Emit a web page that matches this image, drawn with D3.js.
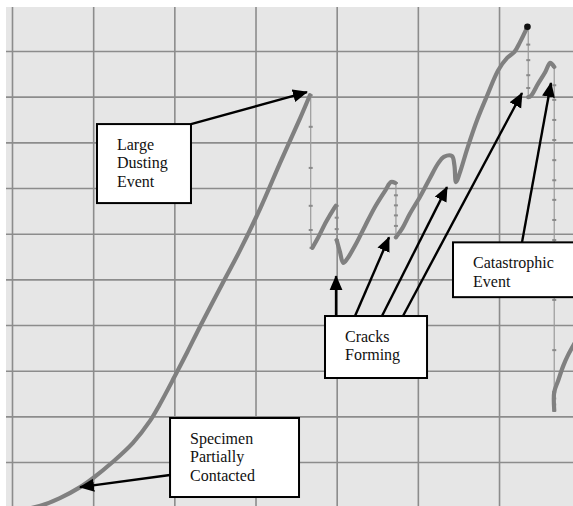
<!DOCTYPE html>
<html>
<head>
<meta charset="utf-8">
<script src="https://cdn.jsdelivr.net/npm/d3@7"></script>
<style>
  html, body { margin: 0; padding: 0; background: #ffffff; }
  svg { display: block; }
  text { font-family: "Liberation Serif", "Times New Roman", serif; font-size: 16px; fill: #111; }
</style>
</head>
<body>
<svg id="chart" width="573" height="506"></svg>
<script>
// ---------- data (grid units: displacement vs load) ----------
const xGrid = [0, 1, 2, 3, 4, 5, 6, 7];
const yGrid = [0, 1, 2, 3, 4, 5, 6, 7, 8, 9, 10, 11];

// loading portions of the trace (dense data points)
const rise1 = [[0.20,-0.02],[0.35,0.04],[0.59,0.21],[0.84,0.45],[1.00,0.65],[1.24,1.00],
  [1.49,1.42],[1.70,1.90],[1.82,2.26],[2.00,2.86],[2.16,3.41],[2.32,3.98],[2.59,4.90],[2.81,5.64],
  [3.06,6.56],[3.30,7.54],[3.55,8.53],[3.67,9.03]];
const rise2 = [[3.70,5.69],[3.77,5.91],[3.87,6.26],[3.97,6.56],[3.99,6.61]];
const rise3 = [[4.00,5.86],[4.04,5.60],[4.08,5.36],[4.13,5.45],[4.23,5.75],[4.35,6.17],[4.47,6.58],
  [4.60,6.95],[4.67,7.13],[4.72,7.11]];
const rise4 = [[4.73,5.92],[4.81,6.12],[4.90,6.43],[5.03,6.82],[5.15,7.22],[5.25,7.54],[5.32,7.68],
  [5.42,7.70],[5.45,7.50],[5.47,7.13],[5.52,7.35],[5.61,7.87],[5.73,8.49],[5.85,9.01],[5.99,9.58],
  [6.10,9.85],[6.19,9.98],[6.26,10.20],[6.35,10.53]];
const rise5 = [[6.36,8.99],[6.39,9.01],[6.48,9.28],[6.57,9.54],[6.63,9.74],[6.68,9.65]];
const rise6 = [[6.68,2.14],[6.68,2.53],[6.73,2.79],[6.79,3.10],[6.85,3.34],[6.94,3.63]];

// load drops (sparse data points)
const drop1 = [[3.68,9.03],[3.68,8.34],[3.68,7.44],[3.68,6.61],[3.68,6.08],[3.69,5.69]];
const drop2 = [[4.00,6.61],[4.00,6.35],[4.00,6.10],[4.00,5.86]];
const drop3 = [[4.73,7.11],[4.73,6.84],[4.73,6.62],[4.73,6.40],[4.73,6.17],[4.73,5.92]];
const drop4 = [[6.36,10.53],[6.36,10.14],[6.36,9.80],[6.36,9.47],[6.36,9.19],[6.36,8.99]];
const drop5 = [[6.68,9.65],[6.68,9.25],[6.68,8.93],[6.68,8.49],[6.68,8.05],[6.68,7.61],[6.68,7.17],
  [6.68,6.74],[6.68,6.30],[6.68,5.86],[6.68,5.38],[6.68,4.55],[6.68,3.45],[6.68,2.53],[6.68,2.39],
  [6.68,2.26],[6.68,2.12]];

const peakPoint = [6.35, 10.53];

// annotations: text, box (data units), arrows [from, to] in data units
const annoLabels = [
  { lines: ["Large", "Dusting", "Event"], box: [1.047, 8.40, 2.205, 6.67],
    arrows: [[[2.205, 8.40], [3.634, 9.10]]] },
  { lines: ["Specimen", "Partially", "Contacted"], box: [1.947, 1.964, 3.536, 0.234],
    arrows: [[[1.947, 0.716], [0.838, 0.45]]] },
  { lines: ["Cracks", "Forming"], box: [3.856, 4.197, 5.113, 2.840],
    arrows: [[[3.992, 4.197], [3.992, 5.07]], [[4.226, 4.197], [4.645, 5.92]],
             [[4.558, 4.197], [5.359, 7.02]], [[4.817, 4.197], [6.283, 9.08]]] },
  { lines: ["Catastrophic", "Event"], box: [5.433, 5.81, 7.05, 4.61],
    arrows: [[[6.283, 5.81], [6.640, 9.30]]] }
];

// ---------- drawing ----------
const svg = d3.select("#chart");
const plot = { left: 6, top: 7, right: 573, bottom: 506 };

const x = d3.scaleLinear().domain([0, 7]).range([12, 580.2]);
const y = d3.scaleLinear().domain([0, 11]).range([507.7, 5.33]);

const defs = svg.append("defs");
defs.append("clipPath").attr("id", "clip")
  .append("rect").attr("x", plot.left).attr("y", plot.top)
  .attr("width", plot.right - plot.left).attr("height", plot.bottom - plot.top);
defs.append("marker").attr("id", "arrow")
  .attr("markerUnits", "userSpaceOnUse")
  .attr("viewBox", "0 -7 15 14").attr("refX", 14).attr("refY", 0)
  .attr("markerWidth", 15).attr("markerHeight", 14).attr("orient", "auto")
  .append("path").attr("d", "M0,-6.5L15,0L0,6.5Z").attr("fill", "#000");

const g = svg.append("g").attr("clip-path", "url(#clip)");

g.append("rect").attr("x", plot.left).attr("y", plot.top)
  .attr("width", plot.right - plot.left).attr("height", plot.bottom - plot.top)
  .attr("fill", "#e6e6e6");

// grid via axes
const gx = g.append("g").attr("transform", `translate(0,${plot.bottom})`)
  .call(d3.axisBottom(x).tickValues(xGrid).tickSize(-(plot.bottom - plot.top)).tickFormat(""));
const gy = g.append("g").attr("transform", `translate(${plot.left},0)`)
  .call(d3.axisLeft(y).tickValues(yGrid).tickSize(-(plot.right - plot.left)).tickFormat(""));
[gx, gy].forEach(a => {
  a.select(".domain").remove();
  a.selectAll(".tick line").attr("stroke", "#8c8c8c").attr("stroke-width", 1.6);
});

const line = d3.line().x(d => x(d[0])).y(d => y(d[1]));
const smooth = d3.line().curve(d3.curveCatmullRom.alpha(0.5)).x(d => x(d[0])).y(d => y(d[1]));

// drops: thin line with sparse markers
const drops = [drop1, drop2, drop3, drop4, drop5];
drops.forEach(seg => {
  g.append("path").attr("d", line(seg)).attr("fill", "none")
    .attr("stroke", "#9a9a9a").attr("stroke-width", 1.2);
  g.selectAll(null).data(seg).enter().append("rect")
    .attr("x", d => x(d[0]) - 2).attr("y", d => y(d[1]) - 1)
    .attr("width", 4).attr("height", 2).attr("fill", "#8a8a8a");
});

// loading portions: thick dotted trace
const rises = [rise1, rise2, rise3, rise4, rise5, rise6];
rises.forEach(seg => {
  g.append("path").attr("d", smooth(seg))
    .attr("fill", "none").attr("stroke", "#808080").attr("stroke-width", 4.2)
    .attr("stroke-linejoin", "round").attr("stroke-linecap", "round");
});

g.append("circle").attr("cx", x(peakPoint[0])).attr("cy", y(peakPoint[1]))
  .attr("r", 3.3).attr("fill", "#111");

// annotations
const ag = svg.append("g");
annoLabels.forEach(a => {
  a.arrows.forEach(ar => {
    ag.append("line")
      .attr("x1", x(ar[0][0])).attr("y1", y(ar[0][1]))
      .attr("x2", x(ar[1][0])).attr("y2", y(ar[1][1]))
      .attr("stroke", "#000").attr("stroke-width", 2.4)
      .attr("marker-end", "url(#arrow)");
  });
});
annoLabels.forEach(a => {
  const bx0 = x(a.box[0]), by0 = y(a.box[1]), bx1 = x(a.box[2]), by1 = y(a.box[3]);
  ag.append("rect").attr("x", bx0).attr("y", by0)
    .attr("width", bx1 - bx0).attr("height", by1 - by0)
    .attr("fill", "#fff").attr("stroke", "#000").attr("stroke-width", 2);
  a.lines.forEach((t, i) => {
    ag.append("text").attr("x", bx0 + 20).attr("y", by0 + 25.5 + i * 18.8).text(t);
  });
});
</script>
</body>
</html>
